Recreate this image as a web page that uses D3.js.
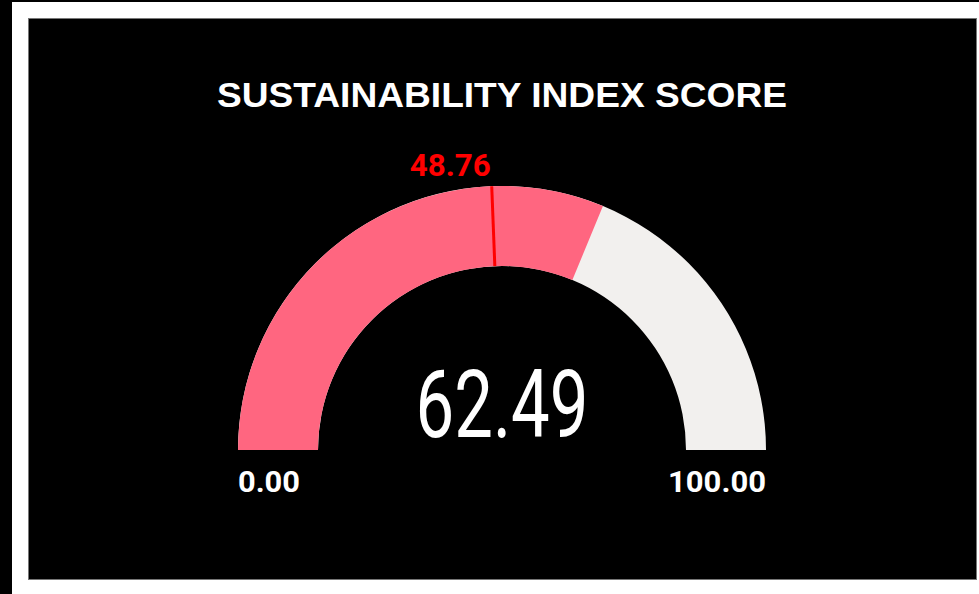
<!DOCTYPE html>
<html><head><meta charset="utf-8">
<script src="https://cdn.jsdelivr.net/npm/d3@7"></script>
<style>html,body{margin:0;padding:0;background:#fff;}svg{display:block;}</style>
</head><body>
<svg id="c" width="979" height="594"></svg>
<script>
const title = ["SUSTAINABILITY INDEX SCORE"];
const range = [0, 100];
const values = [62.49];
const targets = [48.76];
const fmt = d3.format(".2f");

const svg = d3.select("#c");
// outer frame
svg.append("rect").attr("x",0).attr("y",0).attr("width",979).attr("height",594).attr("fill","#fff");
svg.append("rect").attr("x",0).attr("y",0).attr("width",12).attr("height",594).attr("fill","#000");
svg.append("rect").attr("x",0).attr("y",0).attr("width",979).attr("height",2).attr("fill","#000");
// panel
svg.append("rect").attr("x",28.5).attr("y",18.5).attr("width",948).attr("height",561)
  .attr("fill","#000").attr("stroke","#777").attr("stroke-width",1);

const cx = 502, cy = 450, rO = 264, rI = 184;
const ang = d3.scaleLinear().domain(range).range([-Math.PI/2, Math.PI/2]);
const g = svg.append("g").attr("transform",`translate(${cx},${cy})`);
const arc = d3.arc().innerRadius(rI).outerRadius(rO);

g.append("path").attr("d", arc({startAngle: ang(range[0]), endAngle: ang(range[1])})).attr("fill","#f2f0ee");
g.append("path").attr("d", arc({startAngle: ang(range[0]), endAngle: ang(values[0])})).attr("fill","#ff6680");

// target marker
const ta = ang(targets[0]);
g.append("line")
  .attr("x1", rI*Math.sin(ta)).attr("y1", -rI*Math.cos(ta))
  .attr("x2", rO*Math.sin(ta)).attr("y2", -rO*Math.cos(ta))
  .attr("stroke","#ff0000").attr("stroke-width",3);
g.append("text").attr("x", rO*Math.sin(ta)-1).attr("y", -rO*Math.cos(ta)-10)
  .attr("text-anchor","end").attr("fill","#ff0000")
  .style("font-family","Roboto").style("font-weight",700).style("font-size","31px")
  .attr("textLength",81).attr("lengthAdjust","spacingAndGlyphs")
  .text(fmt(targets[0]));

// center value
g.append("text").attr("x",0).attr("y",-13).attr("text-anchor","middle").attr("fill","#fff")
  .style("font-family","Roboto").style("font-weight",400).style("font-size","94px")
  .attr("textLength",173).attr("lengthAdjust","spacingAndGlyphs")
  .text(fmt(values[0]));

// min / max
g.append("text").attr("x",-rO).attr("y",42).attr("text-anchor","start").attr("fill","#fff")
  .style("font-family","Roboto").style("font-weight",700).style("font-size","30px")
  .attr("textLength",62).attr("lengthAdjust","spacingAndGlyphs")
  .text(fmt(range[0]));
g.append("text").attr("x",rO).attr("y",42).attr("text-anchor","end").attr("fill","#fff")
  .style("font-family","Roboto").style("font-weight",700).style("font-size","30px")
  .attr("textLength",98).attr("lengthAdjust","spacingAndGlyphs")
  .text(fmt(range[1]));

// title
svg.append("text").attr("x",502).attr("y",107).attr("text-anchor","middle").attr("fill","#fff")
  .style("font-family","'Liberation Sans', Arial").style("font-weight",700).style("font-size","35px")
  .attr("textLength",570).attr("lengthAdjust","spacingAndGlyphs")
  .text(title[0]);
</script>
</body></html>
